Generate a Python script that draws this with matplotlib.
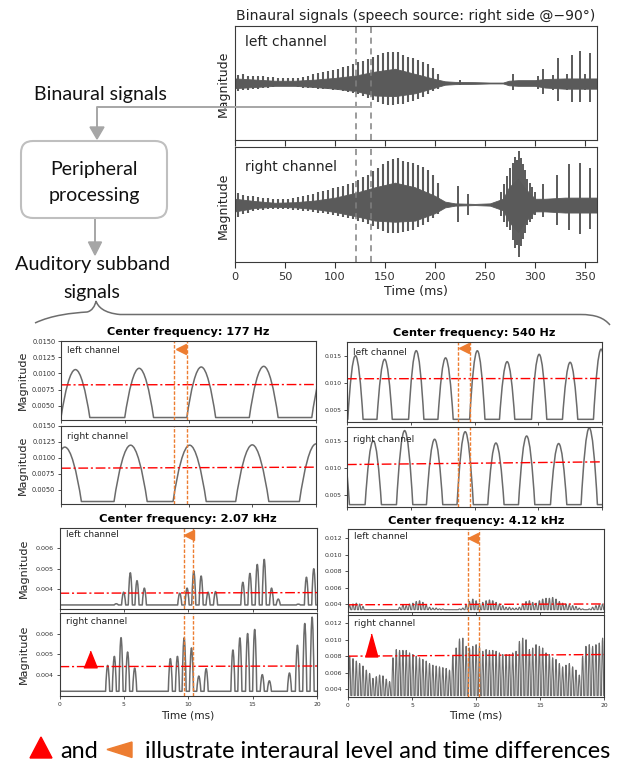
import numpy as np
import matplotlib
matplotlib.use("Agg")
import matplotlib.pyplot as plt
from matplotlib.path import Path
from matplotlib.patches import PathPatch, FancyBboxPatch, Polygon
from matplotlib.transforms import IdentityTransform
from matplotlib.lines import Line2D

# ====================== DATA ======================
# ---- top: binaural speech waveforms (normalised magnitude), time in ms
top_xticks = [0, 50, 100, 150, 200, 250, 300, 350]
itd_window = [121, 136]

voiced_t = [3, 8, 13, 18, 23, 28, 33, 38, 43, 48, 53, 58, 63, 68, 73, 78, 83, 88, 93, 98,
            103, 108, 113, 118, 123, 128, 133, 138, 143, 148, 153, 158, 163, 168, 173, 178,
            183, 188, 193, 198, 203]
left_pulse_hi = [.14, .15, .13, .13, .12, .12, .11, .10, .09, .08, .08, .08, .09, .11, .13, .15,
                 .17, .19, .21, .23, .25, .28, .30, .33, .36, .38, .42, .46, .49, .52, .54, .55,
                 .54, .50, .46, .43, .40, .37, .33, .26, .16]
left_pulse_lo = [-.14, -.13, -.12, -.11, -.10, -.09, -.08, -.07, -.06, -.06, -.06, -.06, -.07,
                 -.08, -.08, -.09, -.10, -.10, -.11, -.12, -.13, -.14, -.16, -.18, -.20, -.22,
                 -.26, -.30, -.34, -.37, -.38, -.38, -.37, -.36, -.34, -.31, -.28, -.24, -.20,
                 -.14, -.10]
right_pulse_hi = [.20, .17, .15, .14, .13, .12, .11, .10, .10, .10, .10, .11, .13, .15, .17, .19,
                  .21, .23, .26, .29, .31, .33, .35, .38, .42, .47, .52, .58, .63, .70, .76, .79,
                  .80, .76, .74, .72, .69, .66, .60, .52, .38]
right_pulse_lo = [-.22, -.16, -.14, -.12, -.10, -.09, -.08, -.07, -.07, -.07, -.08, -.09, -.10,
                  -.11, -.12, -.13, -.14, -.15, -.16, -.18, -.20, -.21, -.23, -.26, -.28, -.31,
                  -.34, -.38, -.42, -.46, -.49, -.50, -.50, -.48, -.46, -.44, -.40, -.36, -.30,
                  -.24, -.16]

left_extra_t = [225, 278, 303, 308, 318, 323, 332, 337, 345, 350, 355]
left_extra_hi = [0.05, 0.16, 0.12, 0.25, 0.14, 0.43, 0.15, 0.49, 0.56, 0.15, 0.52]
left_extra_lo = [-0.04, -0.13, -0.10, -0.19, -0.12, -0.31, -0.13, -0.34, -0.34, -0.13, -0.34]
right_extra_t = [223, 233, 266, 269, 272, 275, 278, 280, 282, 284, 286, 288, 290, 292, 295,
                 297, 300, 308, 322, 334, 345, 355]
right_extra_hi = [0.32, 0.18, 0.22, 0.35, 0.50, 0.64, 0.72, 0.82, 0.78, 0.93, 0.80, 0.70, 0.60,
                  0.45, 0.38, 0.30, 0.22, 0.35, 0.52, 0.70, 0.72, 0.64]
right_extra_lo = [-0.30, -0.19, -0.20, -0.30, -0.40, -0.45, -0.62, -0.75, -0.70, -0.92, -0.72,
                  -0.60, -0.50, -0.35, -0.30, -0.25, -0.18, -0.22, -0.36, -0.45, -0.51, -0.42]

band_t = [0, 10, 20, 40, 60, 80, 100, 120, 140, 160, 180, 200, 210, 220, 240, 255, 268, 274,
          283, 290, 300, 310, 330, 350, 362]
left_band_hi = [.08, .07, .06, .04, .04, .06, .09, .13, .20, .25, .16, .07, .03, .02, .015, .008,
                .008, .04, .05, .05, .05, .07, .08, .08, .08]
left_band_lo = [-.09, -.08, -.07, -.05, -.05, -.07, -.10, -.14, -.22, -.23, -.18, -.08, -.03,
                -.02, -.015, -.008, -.008, -.04, -.05, -.05, -.05, -.08, -.10, -.10, -.10]
right_band_hi = [.10, .08, .06, .03, .04, .07, .12, .20, .30, .38, .30, .15, .05, .02, .01, .02,
                 .10, .30, .45, .28, .10, .10, .12, .12, .12]
right_band_lo = [-.12, -.09, -.06, -.04, -.05, -.08, -.13, -.20, -.28, -.30, -.28, -.15, -.05,
                 -.02, -.01, -.02, -.10, -.30, -.48, -.30, -.12, -.12, -.14, -.14, -.14]

# ---- auditory subband signals (time in ms, magnitude)
sb_xticks = [0, 5, 10, 15, 20]

cf177_left_t = [1.13, 6.13, 11.0, 15.9, 20.8]
cf177_left_peak = [0.0106, 0.0108, 0.0110, 0.0111, 0.0112]
cf177_right_t = [0.3, 5.46, 10.09, 15.0, 20.0]
cf177_right_peak = [0.0117, 0.0120, 0.0120, 0.01205, 0.0122]
cf177_floor = [0.00322, 0.00319]
cf177_level_left = [0.00825, 0.0083]
cf177_level_right = [0.0084, 0.00856]
cf177_itd = [8.86, 9.86]

cf540_left_t = [0.66, 2.95, 5.43, 7.73, 10.22, 12.56, 15.07, 17.5, 19.93]
cf540_left_peak = [0.0150, 0.01434, 0.01592, 0.0146, 0.01591, 0.0139, 0.01525, 0.01378, 0.0162]
cf540_right_t = [-0.45, 2.06, 4.52, 6.87, 9.27, 11.68, 14.09, 16.6, 19.0]
cf540_right_peak = [0.0150, 0.01503, 0.0169, 0.0153, 0.0167, 0.0146, 0.0159, 0.0145, 0.0174]
cf540_floor = [0.00327, 0.00316]
cf540_level_left = [0.01075, 0.0108]
cf540_level_right = [0.0106, 0.0111]
cf540_itd = [8.73, 9.65]

cf2k_left_t = [4.41, 4.98, 5.50, 6.02, 6.59, 9.34, 9.91, 10.43, 11.0, 11.54, 12.12, 14.24,
               14.79, 15.36, 15.9, 16.47, 16.99, 18.55, 19.18, 19.75]
cf2k_left_peak = [0.00327, 0.00384, 0.00480, 0.00441, 0.00404, 0.00379, 0.00404, 0.00488,
                  0.00464, 0.00384, 0.00387, 0.00433, 0.00477, 0.00521, 0.00546, 0.00404,
                  0.00350, 0.00325, 0.00458, 0.0050]
cf2k_right_t = [3.74, 4.26, 4.78, 5.29, 5.84, 8.61, 9.16, 9.68, 10.25, 10.82, 11.39, 13.47,
                14.01, 14.61, 15.16, 15.75, 16.3, 17.86, 18.48, 19.05, 19.62]
cf2k_right_peak = [0.00445, 0.00489, 0.0058, 0.0051, 0.00432, 0.00478, 0.00489, 0.00579,
                   0.0053, 0.00393, 0.00429, 0.0052, 0.00579, 0.0060, 0.0062, 0.0040, 0.0037,
                   0.00408, 0.00543, 0.00649, 0.0068]
cf2k_floor = [0.00321, 0.00319]
cf2k_level_left = [0.00379, 0.00382]
cf2k_level_right = [0.00439, 0.00442]
cf2k_itd = [9.68, 10.4]

cf4k_t = [0.13, 0.39, 0.65, 0.91, 1.17, 1.43, 1.69, 1.95, 2.21, 2.47, 2.73, 2.99, 3.25, 3.51,
          3.77, 4.03, 4.29, 4.55, 4.81, 5.07, 5.33, 5.59, 5.85, 6.11, 6.37, 6.63, 6.89, 7.15,
          7.41, 7.67, 7.93, 8.19, 8.45, 8.71, 8.97, 9.23, 9.49, 9.75, 10.01, 10.27, 10.53,
          10.79, 11.05, 11.31, 11.57, 11.83, 12.09, 12.35, 12.61, 12.87, 13.13, 13.39, 13.65,
          13.91, 14.17, 14.43, 14.69, 14.95, 15.21, 15.47, 15.73, 15.99, 16.25, 16.51, 16.77,
          17.03, 17.29, 17.55, 17.81, 18.07, 18.33, 18.59, 18.85, 19.11, 19.37, 19.63, 19.89]
cf4k_left_peak = [.0038, .0040, .0041, .0040, .0037, .0033, .0033, .0033, .0033, .0033, .0033,
                  .0033, .0033, .0033, .0033, .0036, .0039, .0038, .0040, .0041, .0043, .0044,
                  .0042, .0039, .0036, .0035, .0035, .0034, .0034, .0033, .0033, .0033, .0033,
                  .0034, .0035, .0039, .0043, .0046, .0044, .0041, .0042, .0044, .0045, .0044,
                  .0042, .0040, .0038, .0036, .0036, .0035, .0035, .0036, .0040, .0043, .0044,
                  .0042, .0041, .0044, .0046, .0047, .0047, .0048, .0046, .0043, .0041, .0040,
                  .0039, .0038, .0037, .0035, .0034, .0033, .0034, .0036, .0038, .0039, .0040]
cf4k_right_peak = [.0080, .0077, .0074, .0071, .0068, .0063, .0059, .0053, .0055, .0057, .0056,
                   .0052, .0049, .0078, .0088, .0087, .0087, .0087, .0084, .0082, .0080, .0078,
                   .0076, .0074, .0071, .0069, .0068, .0067, .0066, .0065, .0063, .0080, .0090,
                   .0101, .0102, .0092, .0090, .0092, .0094, .0092, .0086, .0088, .0087, .0087,
                   .0086, .0084, .0082, .0082, .0082, .0084, .0086, .0098, .0102, .0100, .0088,
                   .0090, .0094, .0092, .0090, .0084, .0082, .0078, .0076, .0071, .0067, .0069,
                   .0071, .0067, .0063, .0057, .0080, .0092, .0094, .0092, .0094, .0096, .0102]
cf4k_floor = [0.0033, 0.0032]
cf4k_level_left = [0.0039, 0.0040]
cf4k_level_right = [0.0080, 0.0082]
cf4k_itd = [9.4, 10.2]

# ====================== STYLE / LAYOUT ======================
W, H = 617, 764
WAVE = "#5a5a5a"
SIG = "#6b6b6b"
ORANGE = "#ED7D31"
SPINE = "#3a3a3a"
DIAG = ["Lato", "DejaVu Sans"]

fig = plt.figure(figsize=(W / 100, H / 100), dpi=100)
fig.patch.set_facecolor("white")


def add_ax(x0, y0, x1, y1):
    return fig.add_axes([x0 / W, 1 - y1 / H, (x1 - x0) / W, (y1 - y0) / H])


def ptext(x, y, s, **kw):
    return fig.text(x / W, 1 - y / H, s, **kw)


def fit(t, target):
    r = fig.canvas.get_renderer()
    w = t.get_window_extent(r).width
    t.set_fontsize(t.get_fontsize() * target / w)


def style_spines(ax):
    for s in ax.spines.values():
        s.set_color(SPINE)
        s.set_linewidth(0.8)


# ---------------- top waveforms ----------------
axTL = add_ax(235, 26, 597, 140)
axTR = add_ax(235, 147, 597, 262)
for ax, bh, bl, ph, pl, et, eh, el in [
        (axTL, left_band_hi, left_band_lo, left_pulse_hi, left_pulse_lo,
         left_extra_t, left_extra_hi, left_extra_lo),
        (axTR, right_band_hi, right_band_lo, right_pulse_hi, right_pulse_lo,
         right_extra_t, right_extra_hi, right_extra_lo)]:
    ax.fill_between(band_t, bl, bh, color=WAVE, lw=0.6)
    ax.vlines(voiced_t, pl, ph, color=WAVE, lw=1.5)
    ax.vlines(et, el, eh, color=WAVE, lw=1.4)
    ax.set_xlim(0, 362)
    ax.set_ylim(-1, 1)
    ax.set_yticks([])
    ax.set_xticks(top_xticks)
    for x in itd_window:
        ax.axvline(x, color="#808080", ls=(0, (4, 3)), lw=1.1)
    style_spines(ax)
    ax.tick_params(axis="x", labelsize=8.2, colors="#333333", length=4)
axTL.tick_params(labelbottom=False)

t_title = ptext(416, 16, "Binaural signals (speech source: right side @\u221290\u00b0)",
                ha="center", va="center", fontsize=9, color="#222222")
fit(t_title, 359)
t_l = axTL.text(0.028, 0.86, "left channel", transform=axTL.transAxes, ha="left",
                va="center", fontsize=10, color="#222222")
fit(t_l, 82)
t_r = axTR.text(0.028, 0.83, "right channel", transform=axTR.transAxes, ha="left",
                va="center", fontsize=10, color="#222222")
fit(t_r, 92)
ptext(223, 84, "Magnitude", rotation=90, ha="center", va="center", fontsize=9, color="#222222")
ptext(223, 206, "Magnitude", rotation=90, ha="center", va="center", fontsize=9, color="#222222")
t_time = ptext(416, 292, "Time (ms)", ha="center", va="center", fontsize=9, color="#222222")
fit(t_time, 64)


# ---------------- subband panels ----------------
def lobe_path(centers, peaks, hw, floor, x0=-3, x1=23):
    verts = [(x0, floor)]
    codes = [Path.MOVETO]
    for c, p in zip(centers, peaks):
        a, b = c - hw, c + hw
        h = p - floor
        verts += [(a, floor),
                  (a + 0.28 * hw, floor + 0.55 * h), (c - 0.36 * hw, p), (c, p),
                  (c + 0.36 * hw, p), (b - 0.28 * hw, floor + 0.55 * h), (b, floor)]
        codes += [Path.LINETO] + [Path.CURVE4] * 6
    verts.append((x1, floor))
    codes.append(Path.LINETO)
    return Path(verts, codes)


def channel(ax, centers, peaks, hw, floor, level, ylim, yticks, yfmt, ylab, lw=1.1):
    ax.add_patch(PathPatch(lobe_path(centers, peaks, hw, floor), fill=False,
                           edgecolor=SIG, lw=lw, joinstyle="round"))
    ax.plot([0, 20], level, color="red", ls=(0, (7, 2, 1.5, 2)), lw=1.0)
    ax.set_xlim(0, 20)
    ax.set_ylim(*ylim)
    ax.set_xticks(sb_xticks)
    ax.set_yticks(yticks)
    ax.set_yticklabels([yfmt % v for v in yticks])
    ax.tick_params(labelsize=ylab, length=2.5, width=0.6, colors="#333333", pad=1.5)
    style_spines(ax)


def itd_lines(axes, itd):
    for ax in axes:
        for x in itd:
            ax.axvline(x, color=ORANGE, ls=(0, (2.5, 1.2)), lw=1.0)


def chan_text(ax, s, y, target, size):
    t = ax.text(0.025, y, s, transform=ax.transAxes, ha="left", va="center",
                fontsize=size, color="#222222")
    fit(t, target)


def panel_title(x, y, s, target):
    t = ptext(x, y, s, ha="center", va="center", fontsize=7, fontweight="bold", color="black")
    fit(t, target)


# 177 Hz
a1 = add_ax(61, 341, 316, 420)
a2 = add_ax(61, 426, 316, 504)
yt177 = [0.005, 0.0075, 0.01, 0.0125, 0.015]
channel(a1, cf177_left_t, cf177_left_peak, 1.13, cf177_floor[0], cf177_level_left,
        (0.00284, 0.0150), yt177, "%.4f", 4.8)
channel(a2, cf177_right_t, cf177_right_peak, 1.3, cf177_floor[1], cf177_level_right,
        (0.0028, 0.0150), yt177, "%.4f", 4.8)
itd_lines([a1, a2], cf177_itd)
a1.tick_params(labelbottom=False)
a2.tick_params(labelbottom=False)
a1.plot([9.4], [0.0137], marker="<", ms=7, color=ORANGE, mec=ORANGE)
chan_text(a1, "left channel", 0.886, 53, 6.5)
chan_text(a2, "right channel", 0.87, 61, 6.5)
panel_title(188, 332, "Center frequency: 177 Hz", 163)
ptext(22.5, 380.5, "Magnitude", rotation=90, ha="center", va="center", fontsize=8, color="#222222")
ptext(22.5, 465, "Magnitude", rotation=90, ha="center", va="center", fontsize=8, color="#222222")

# 540 Hz
b1 = add_ax(347, 342, 602, 422)
b2 = add_ax(347, 427, 602, 507)
yt540 = [0.005, 0.010, 0.015]
channel(b1, cf540_left_t, cf540_left_peak, 0.6, cf540_floor[0], cf540_level_left,
        (0.00278, 0.01752), yt540, "%.3f", 4.3)
channel(b2, cf540_right_t, cf540_right_peak, 0.64, cf540_floor[1], cf540_level_right,
        (0.00272, 0.01757), yt540, "%.3f", 4.3)
itd_lines([b1, b2], cf540_itd)
b1.tick_params(labelbottom=False)
b2.tick_params(labelbottom=False)
b1.plot([9.2], [0.01645], marker="<", ms=7.5, color=ORANGE, mec=ORANGE)
chan_text(b1, "left channel", 0.866, 54, 6.5)
chan_text(b2, "right channel", 0.85, 61, 6.5)
panel_title(474, 333, "Center frequency: 540 Hz", 163)

# 2.07 kHz
c1 = add_ax(59.5, 528, 317, 609)
c2 = add_ax(59.5, 613, 317, 696)
yt2k = [0.004, 0.005, 0.006]
channel(c1, cf2k_left_t, cf2k_left_peak, 0.16, cf2k_floor[0], cf2k_level_left,
        (0.00301, 0.00701), yt2k, "%.3f", 4.6)
channel(c2, cf2k_right_t, cf2k_right_peak, 0.16, cf2k_floor[1], cf2k_level_right,
        (0.00296, 0.0070), yt2k, "%.3f", 4.6)
itd_lines([c1, c2], cf2k_itd)
c1.tick_params(labelbottom=False)
c1.plot([10.08], [0.00668], marker="<", ms=6.5, color=ORANGE, mec=ORANGE)
c2.plot([2.39], [0.00478], marker=[(-0.8, -1), (0.8, -1), (0, 1)], ms=12, color="red",
        mec="red", ls="none")
chan_text(c1, "left channel", 0.92, 53, 6.5)
chan_text(c2, "right channel", 0.90, 61, 6.5)
panel_title(188, 519, "Center frequency: 2.07 kHz", 178)
ptext(24, 568.5, "Magnitude", rotation=90, ha="center", va="center", fontsize=8, color="#222222")
ptext(24, 654.5, "Magnitude", rotation=90, ha="center", va="center", fontsize=8, color="#222222")

# 4.12 kHz
d1 = add_ax(348, 529, 604, 612)
d2 = add_ax(348, 615, 604, 697)
yt4k = [0.004, 0.006, 0.008, 0.010, 0.012]
channel(d1, cf4k_t, cf4k_left_peak, 0.085, cf4k_floor[0], cf4k_level_left,
        (0.00302, 0.01314), yt4k, "%.3f", 4.5, lw=0.8)
channel(d2, cf4k_t, cf4k_right_peak, 0.085, cf4k_floor[1], cf4k_level_right,
        (0.00302, 0.01302), yt4k, "%.3f", 4.5, lw=0.8)
itd_lines([d1, d2], cf4k_itd)
d1.tick_params(labelbottom=False)
d1.plot([9.77], [0.0120], marker="<", ms=6.5, color=ORANGE, mec=ORANGE)
d2.plot([1.8], [0.0094], marker=[(-0.55, -1), (0.55, -1), (0, 1)], ms=16.5, color="red",
        mec="red", ls="none")
chan_text(d1, "left channel", 0.915, 54, 6.5)
chan_text(d2, "right channel", 0.90, 61, 6.5)
panel_title(476, 521, "Center frequency: 4.12 kHz", 176)

for ax in (c2, d2):
    ax.tick_params(axis="x", labelsize=4.3)
for x in (188, 476):
    ptext(x, 716, "Time (ms)", ha="center", va="center", fontsize=7.6, color="#222222")

# ---------------- block diagram (pixel coordinates) ----------------
def disp(x, y):
    return (x, H - y)


ARROW = "#A6A6A6"
fig.add_artist(Line2D([371 / W, 97 / W, 97 / W], [1 - 106.7 / H, 1 - 106.7 / H, 1 - 128 / H],
                      transform=fig.transFigure, color=ARROW, lw=1.4, zorder=5))
fig.add_artist(Polygon([disp(90, 127), disp(104, 127), disp(97, 139)], closed=True,
                       transform=IdentityTransform(), color=ARROW, zorder=5))
fig.add_artist(Line2D([95 / W, 95 / W], [1 - 218.5 / H, 1 - 243 / H],
                      transform=fig.transFigure, color=ARROW, lw=1.4, zorder=5))
fig.add_artist(Polygon([disp(88.5, 242), disp(101.5, 242), disp(95, 255)], closed=True,
                       transform=IdentityTransform(), color=ARROW, zorder=5))
fig.add_artist(FancyBboxPatch(disp(21, 218), 146, 77,
                              boxstyle="round,pad=0,rounding_size=12",
                              transform=IdentityTransform(), fill=False,
                              edgecolor="#BFBFBF", lw=1.5, zorder=5))

d_texts = [("Binaural signals", 100, 100, 133),
           ("Peripheral", 94, 175, 87),
           ("processing", 94, 201.5, 91),
           ("Auditory subband", 92.5, 270, 155),
           ("signals", 92.3, 298.3, 57)]
for s, x, y, wt in d_texts:
    t = ptext(x, y, s, ha="center", va="baseline", fontsize=13, family=DIAG, color="#111111")
    fit(t, wt)

# curly brace
bv = [disp(35, 323), disp(52, 315), disp(72, 313), disp(87, 312),
      disp(92, 311), disp(95, 306), disp(96, 301),
      disp(98, 307), disp(104, 313), disp(120, 314.5),
      disp(580, 314.5),
      disp(596, 314.5), disp(604, 318), disp(610, 325)]
bc = [Path.MOVETO, Path.CURVE4, Path.CURVE4, Path.CURVE4,
      Path.CURVE4, Path.CURVE4, Path.CURVE4,
      Path.CURVE4, Path.CURVE4, Path.CURVE4,
      Path.LINETO,
      Path.CURVE4, Path.CURVE4, Path.CURVE4]
fig.add_artist(PathPatch(Path(bv, bc), transform=IdentityTransform(), fill=False,
                         edgecolor="#6d6d6d", lw=1.1, zorder=5))

# ---------------- caption ----------------
fig.add_artist(Polygon([disp(30, 758), disp(52, 758), disp(41, 737)], closed=True,
                       transform=IdentityTransform(), color="red", zorder=5))
fig.add_artist(Polygon([disp(107, 749.5), disp(132, 742), disp(132, 757.5)], closed=True,
                       transform=IdentityTransform(), color=ORANGE, zorder=5))
cap = ptext(145, 758, "illustrate interaural level and time differences", ha="left",
            va="baseline", fontsize=16, family=DIAG, color="black")
fit(cap, 468)
ptext(60, 758, "and", ha="left", va="baseline", fontsize=cap.get_fontsize(), family=DIAG,
      color="black")

fig.savefig("out.png", dpi=100, facecolor="white")
